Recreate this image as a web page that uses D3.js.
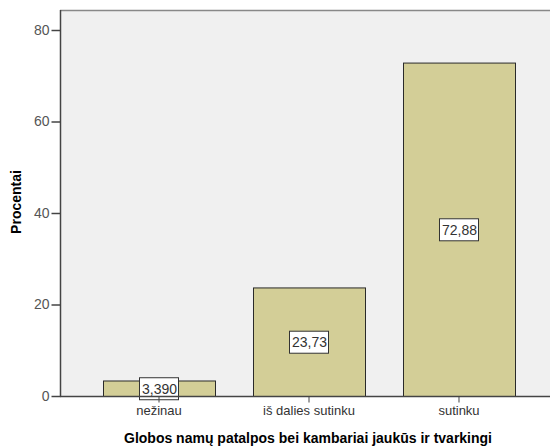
<!DOCTYPE html>
<html><head><meta charset="utf-8">
<script src="https://cdn.jsdelivr.net/npm/d3@7"></script>
<style>body{margin:0;background:#fff}svg{display:block}</style>
</head><body>
<script>
const categories = ["nežinau", "iš dalies sutinku", "sutinku"];
const values = [3.390, 23.73, 72.88];
const valueLabels = ["3,390", "23,73", "72,88"];
const yTicks = [0, 20, 40, 60, 80];
const xTitle = "Globos namų patalpos bei kambariai jaukūs ir tvarkingi";
const yTitle = "Procentai";

const W = 550, H = 447;
const svg = d3.select("body").append("svg").attr("width", W).attr("height", H);
const plotL = 60, plotT = 10, plotR = 552, plotB = 396;

svg.append("rect").attr("x", plotL).attr("y", plotT).attr("width", plotR - plotL).attr("height", plotB - plotT)
  .attr("fill", "#f0f0f0").attr("stroke", "none");
svg.append("line").attr("x1", plotL).attr("x2", plotR).attr("y1", plotT + 0.5).attr("y2", plotT + 0.5)
  .attr("stroke", "#888").attr("stroke-width", 1.5);

const y = d3.scaleLinear().domain([0, 80]).range([plotB, plotB - 366]);
const x = d3.scaleBand().domain(categories).range([84, 534]).paddingInner(0.2533).paddingOuter(0.12667);

const g = svg.append("g");
g.selectAll("rect.bar").data(values).join("rect").attr("class", "bar")
  .attr("x", (d, i) => x(categories[i]) + 0.5)
  .attr("y", d => y(d) + 0.5)
  .attr("width", x.bandwidth())
  .attr("height", d => plotB - y(d))
  .attr("fill", "#d3ce97").attr("stroke", "#2a2a2a").attr("stroke-width", 1);

// value labels
values.forEach((d, i) => {
  const cx = x(categories[i]) + x.bandwidth() / 2;
  const cy = (y(d) + plotB) / 2;
  const lg = svg.append("g");
  lg.append("rect").attr("x", cx - 19.5).attr("y", cy - 10.5).attr("width", 39).attr("height", 22)
    .attr("fill", "#fff").attr("stroke", "#333").attr("stroke-width", 1);
  lg.append("text").attr("x", cx + 0.5).attr("y", cy + 5.5).attr("text-anchor", "middle")
    .attr("font-family", "Liberation Sans, Arial, sans-serif").attr("font-size", 14).attr("fill", "#333")
    .text(valueLabels[i]);
});

// y axis
const yAxis = d3.axisLeft(y).tickValues(yTicks).tickSize(9).tickPadding(2).tickFormat(d3.format("d"));
const ya = svg.append("g").attr("transform", `translate(${plotL + 0.5},0)`).call(yAxis);
ya.select(".domain").attr("d", `M0,${plotT}V${plotB + 0.5}`).attr("stroke", "#444").attr("stroke-width", 1.5);
ya.selectAll(".tick line").attr("stroke", "#444").attr("stroke-width", 1.5);
ya.selectAll(".tick text").attr("font-family", "Liberation Sans, Arial, sans-serif").attr("font-size", 14).attr("fill", "#555");

// x axis
const xAxis = d3.axisBottom(x).tickSize(6).tickPadding(3);
const xa = svg.append("g").attr("transform", `translate(0,${plotB + 0.5})`).call(xAxis);
xa.select(".domain").attr("d", `M${plotL},0H${plotR}`).attr("stroke", "#444").attr("stroke-width", 1.5);
xa.selectAll(".tick line").attr("stroke", "#444");
xa.selectAll(".tick text").attr("font-family", "Liberation Sans, Arial, sans-serif").attr("font-size", 13).attr("fill", "#333");

svg.append("text").attr("x", 308).attr("y", 443).attr("text-anchor", "middle")
  .attr("font-family", "Liberation Sans, Arial, sans-serif").attr("font-size", 14).attr("font-weight", "bold").attr("fill", "#000")
  .text(xTitle);
svg.append("text").attr("transform", "translate(21,202) rotate(-90)").attr("text-anchor", "middle")
  .attr("font-family", "Liberation Sans, Arial, sans-serif").attr("font-size", 14).attr("font-weight", "bold").attr("fill", "#000")
  .text(yTitle);
</script>
</body></html>
